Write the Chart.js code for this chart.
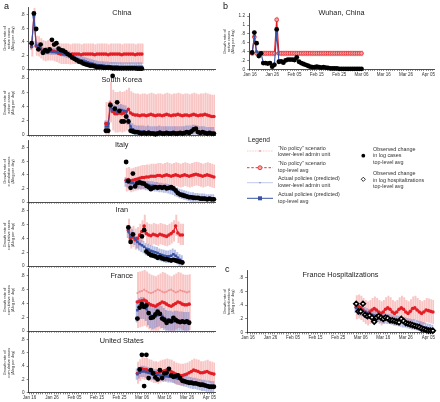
<!DOCTYPE html>
<html><head><meta charset="utf-8">
<script src="https://cdn.jsdelivr.net/npm/chart.js@4/dist/chart.umd.min.js"></script>
<style>
html,body{margin:0;padding:0;background:#fff;}
body{width:440px;height:402px;position:relative;overflow:hidden;font-family:"Liberation Sans",Arial,sans-serif;color:#222;}
canvas{position:absolute;}
.t{position:absolute;transform:translate(-50%,-50%);white-space:nowrap;font-size:7.3px;color:#222;line-height:1;}
.lab{position:absolute;font-size:9px;color:#111;line-height:1;}
.lg{position:absolute;font-size:5.4px;line-height:6.4px;color:#333;white-space:nowrap;}
svg{position:absolute;left:0;top:0;}
</style></head>
<body>
<script>
// ---------- axis ticks ----------
const tickDays = [0,10,20,30,40,50,60,70,80];
const tickLabels = ['Jan 16','Jan 26','Feb 05','Feb 15','Feb 25','Mar 06','Mar 16','Mar 26','Apr 05'];
const yTicksCases = [0,0.2,0.4,0.6,0.8];
const yTicksWuhan = [0,0.2,0.4,0.6,0.8,1,1.2];

// ---------- China (start day index: 0 = Jan 16) ----------
const chinaStart = 1;
const chinaObserved = [0.38,0.82,0.59,0.29,0.36,0.24,0.28,0.26,0.29,0.43,0.36,0.38,0.30,0.28,0.27,0.25,0.22,0.20,0.17,0.15,0.13,0.11,0.10,0.08,0.07,0.06,0.05,0.05,0.04,0.03,0.03,0.03,0.02,0.02,0.02,0.02,0.01,0.01,0.01,0.01,0.01,0.01,0.01,0.01,0.01,0.01,0.01,0.005,0.005,0.005];
const chinaNoPolicy = [0.33,0.80,0.34,0.33,0.30,0.27,0.26,0.27,0.27,0.27,0.26,0.25,0.23,0.22,0.22,0.22,0.22,0.21,0.22,0.22,0.22,0.22,0.21,0.22,0.22,0.22,0.22,0.22,0.21,0.22,0.22,0.22,0.22,0.22,0.21,0.22,0.22,0.22,0.22,0.22,0.21,0.22,0.22,0.22,0.22,0.22,0.21,0.22,0.22,0.22];
const chinaActual = [0.33,0.78,0.35,0.33,0.30,0.26,0.25,0.26,0.26,0.25,0.25,0.25,0.25,0.24,0.23,0.22,0.21,0.20,0.18,0.17,0.15,0.14,0.13,0.12,0.11,0.10,0.09,0.08,0.07,0.06,0.055,0.05,0.05,0.045,0.045,0.04,0.04,0.04,0.04,0.035,0.035,0.035,0.035,0.035,0.035,0.035,0.035,0.035,0.035,0.035];
const chinaNoPolicyBand = [0.14,0.15];
const chinaActualBand = [0.04,0.06];

// ---------- South Korea ----------
const koreaStart = 34;
const koreaObserved = [0.06,0.06,0.42,0.83,0.37,0.46,0.34,0.19,0.19,0.26,0.19,0.06,0.05,0.04,0.04,0.03,0.02,0.03,0.02,0.03,0.02,0.02,0.01,0.02,0.03,0.02,0.02,0.03,0.02,0.02,0.03,0.02,0.02,0.03,0.02,0.03,0.04,0.03,0.05,0.08,0.09,0.04,0.03,0.04,0.03,0.02,0.03,0.02,0.02];
const koreaNoPolicy = [0.16,0.16,0.44,0.33,0.30,0.30,0.31,0.30,0.31,0.33,0.36,0.31,0.29,0.28,0.28,0.27,0.28,0.28,0.27,0.28,0.29,0.28,0.27,0.28,0.28,0.27,0.28,0.29,0.28,0.27,0.28,0.28,0.29,0.28,0.27,0.28,0.28,0.27,0.28,0.29,0.28,0.27,0.28,0.28,0.29,0.28,0.27,0.26,0.26];
const koreaActual = [0.12,0.12,0.40,0.36,0.34,0.33,0.34,0.35,0.34,0.33,0.20,0.12,0.08,0.06,0.05,0.05,0.05,0.05,0.04,0.05,0.04,0.04,0.04,0.04,0.05,0.04,0.04,0.04,0.04,0.04,0.04,0.04,0.04,0.04,0.04,0.04,0.05,0.05,0.05,0.06,0.06,0.05,0.04,0.04,0.04,0.03,0.03,0.03,0.03];
const koreaNoPolicyBand = [0.26,0.30];
const koreaActualBand = [0.05,0.08];

// ---------- Italy ----------
const italyStart = 43;
const italyObserved = [0.59,0.31,0.21,0.42,0.23,0.28,0.29,0.28,0.27,0.24,0.22,0.19,0.21,0.22,0.21,0.22,0.21,0.22,0.20,0.21,0.22,0.20,0.17,0.13,0.11,0.10,0.09,0.08,0.07,0.07,0.06,0.06,0.06,0.05,0.05,0.05,0.04,0.05,0.04,0.04];
const italyNoPolicy = [0.32,0.33,0.31,0.32,0.33,0.34,0.35,0.36,0.36,0.37,0.37,0.38,0.38,0.38,0.39,0.39,0.38,0.39,0.40,0.39,0.38,0.39,0.40,0.39,0.38,0.39,0.40,0.39,0.38,0.39,0.40,0.41,0.40,0.39,0.38,0.39,0.40,0.39,0.38,0.37];
const italyActual = [0.30,0.29,0.28,0.28,0.27,0.27,0.27,0.26,0.26,0.25,0.25,0.24,0.24,0.23,0.23,0.22,0.22,0.21,0.21,0.20,0.19,0.18,0.16,0.15,0.13,0.12,0.11,0.10,0.09,0.08,0.08,0.07,0.07,0.06,0.06,0.06,0.05,0.05,0.05,0.05];
const italyNoPolicyBand = [0.16,0.18];
const italyActualBand = [0.07,0.06];

// ---------- Iran ----------
const iranStart = 44;
const iranObserved = [0.56,0.35,0.46,null,null,null,0.43,0.52,0.21,0.18,0.16,0.15,0.14,0.12,0.13,0.11,0.10,0.10,0.09,0.08,0.09,0.08,0.07,0.06,0.05];
const iranNoPolicy = [0.52,0.40,0.42,0.38,0.40,0.45,0.50,0.58,0.47,0.45,0.44,0.46,0.45,0.44,0.46,0.45,0.44,0.43,0.45,0.47,0.50,0.58,0.48,0.45,0.45];
const iranActual = [0.50,0.42,0.45,0.40,0.35,0.32,0.30,0.28,0.25,0.24,0.22,0.21,0.20,0.19,0.17,0.16,0.15,0.14,0.14,0.15,0.17,0.15,0.12,0.09,0.07];
const iranNoPolicyBand = [0.14,0.16];
const iranActualBand = [0.09,0.08];

// ---------- France (cases) ----------
const franceStart = 48;
const franceObserved = [0.18,0.34,0.39,0.35,0.37,0.26,0.19,0.20,0.24,0.28,0.25,0.18,0.16,0.12,0.15,0.14,0.19,0.16,0.14,0.13,0.14,0.13,0.14,0.12];
const franceNoPolicy = [0.42,0.43,0.44,0.45,0.43,0.40,0.38,0.37,0.36,0.38,0.40,0.42,0.41,0.39,0.37,0.36,0.38,0.40,0.42,0.41,0.39,0.38,0.38,0.39];
const franceNoPolicyLower = [0.55,0.57,0.58,0.60,0.58,0.56,0.55,0.56,0.58,0.60,0.59,0.57,0.56,0.57,0.59,0.60,0.58,0.56,0.57,0.59,0.58,0.57,0.56,0.57];
const franceActual = [0.30,0.33,0.35,0.35,0.32,0.26,0.22,0.20,0.21,0.23,0.24,0.22,0.19,0.16,0.15,0.15,0.14,0.15,0.15,0.14,0.14,0.13,0.13,0.13];
const franceNoPolicyBand = [0.37,0.43];
const franceActualBand = [0.17,0.14];

// ---------- United States ----------
const usStart = 48;
const usObserved = [null,0.35,0.57,0.10,0.57,0.22,0.34,0.29,0.23,0.20,0.34,0.22,0.29,0.30,0.36,0.26,0.24,0.25,0.26,0.22,0.18,0.17,0.16,0.15,0.15,0.14,0.14,0.13,0.12,0.12,0.11,0.10,0.09,0.09,0.09];
const usNoPolicy = [0.29,0.33,0.36,0.35,0.35,0.33,0.32,0.30,0.30,0.29,0.31,0.32,0.33,0.34,0.33,0.32,0.30,0.28,0.27,0.26,0.26,0.27,0.28,0.30,0.32,0.34,0.33,0.32,0.30,0.30,0.31,0.32,0.30,0.29,0.28];
const usActual = [0.28,0.30,0.32,0.32,0.31,0.30,0.29,0.28,0.27,0.27,0.26,0.26,0.25,0.25,0.24,0.24,0.23,0.22,0.21,0.20,0.19,0.18,0.17,0.16,0.15,0.14,0.14,0.13,0.12,0.11,0.11,0.10,0.10,0.09,0.09];
const usNoPolicyBand = [0.15,0.17];
const usActualBand = [0.08,0.08];

// ---------- Wuhan ----------
const wuhanStart = 1;
const wuhanObserved = [0.38,0.83,0.59,0.30,0.36,0.14,0.14,0.13,0.14,0.06,0.10,0.90,0.17,0.18,0.15,0.20,0.22,0.22,0.22,0.21,0.27,0.17,0.14,0.12,0.10,0.08,0.06,0.05,0.05,0.06,0.05,0.04,0.05,0.04,0.03,0.02,0.02,0.02,0.02,0.01,0.01,0.01,0.01,0.01,0.01,0.01,0.01,0.01,0.01,0.01];
const wuhanNoPolicy = [0.36,0.73,0.36,0.36,0.36,0.36,0.36,0.36,0.36,0.36,0.36,1.12,0.36,0.36,0.36,0.36,0.36,0.36,0.36,0.36,0.36,0.36,0.36,0.36,0.36,0.36,0.36,0.36,0.36,0.36,0.36,0.36,0.36,0.36,0.36,0.36,0.36,0.36,0.36,0.36,0.36,0.36,0.36,0.36,0.36,0.36,0.36,0.36,0.36,0.36];
const wuhanActual = [0.36,0.75,0.40,0.36,0.36,0.15,0.14,0.14,0.14,0.10,0.12,0.82,0.18,0.18,0.18,0.20,0.22,0.22,0.22,0.23,0.24,0.18,0.15,0.12,0.10,0.08,0.07,0.06,0.06,0.06,0.05,0.05,0.05,0.04,0.03,0.02,0.02,0.02,0.02,0.02,0.01,0.01,0.01,0.01,0.01,0.01,0.01,0.01,0.01,0.01];
const wuhanNoPolicyBand = [0.06,0.06];
const wuhanActualBand = [0.02,0.02];

// ---------- France hospitalizations ----------
const hospStart = 48;
const hospObserved = [0.42,0.31,0.31,0.42,0.26,0.24,0.25,0.22,0.16,0.22,0.24,0.22,0.20,0.22,0.21,0.18,0.18,0.17,0.16,0.15,0.20,0.17,0.14,0.13,0.12,0.11,0.10,0.09,0.08,0.06,0.05,0.04,0.03,0.03,0.03];
const hospNoPolicy = [0.37,0.38,0.36,0.33,0.30,0.28,0.30,0.33,0.35,0.33,0.30,0.28,0.30,0.34,0.36,0.34,0.30,0.28,0.30,0.34,0.36,0.34,0.30,0.28,0.31,0.35,0.36,0.33,0.30,0.28,0.30,0.33,0.32,0.31,0.30];
const hospActual = [0.36,0.33,0.32,0.31,0.30,0.28,0.27,0.26,0.25,0.24,0.23,0.22,0.21,0.21,0.20,0.20,0.19,0.18,0.18,0.17,0.16,0.15,0.15,0.14,0.13,0.12,0.12,0.11,0.10,0.09,0.08,0.07,0.06,0.05,0.04];
const hospNoPolicyBand = [0.17,0.17];
const hospActualBand = [0.07,0.07];

// ---------- styles ----------
const FONT = '"Liberation Sans", Arial, sans-serif';
Chart.defaults.font.family = FONT;
const RED = '#e41e26', BLUE = '#3953a4';
const RED_BAND = 'rgba(238,96,96,0.36)', BLUE_BAND = 'rgba(72,92,190,0.40)';

const activeTitle = ['Growth rate of','active cases','(\u0394log per day)'];
const cumTitle = ['Growth rate of','cumulative cases','(\u0394log per day)'];
const hospTitle = ['Growth rate of','hospitalizations','(\u0394log per day)'];

const panels = [
 {title:'China', yTitle:activeTitle, start:chinaStart, observed:chinaObserved, noPolicy:chinaNoPolicy, actual:chinaActual, npBand:chinaNoPolicyBand, acBand:chinaActualBand, yTicks:yTicksCases, ymax:0.9,
  box:{cl:0, pl:28.5, pr:215, y0:70, unit:69, labels:false, ty:13}},
 {title:'South Korea', yTitle:activeTitle, start:koreaStart, observed:koreaObserved, noPolicy:koreaNoPolicy, actual:koreaActual, npBand:koreaNoPolicyBand, acBand:koreaActualBand, yTicks:yTicksCases, ymax:0.9,
  box:{cl:0, pl:28.5, pr:215, y0:136, unit:73, labels:false, ty:80}},
 {title:'Italy', yTitle:cumTitle, start:italyStart, observed:italyObserved, noPolicy:italyNoPolicy, actual:italyActual, npBand:italyNoPolicyBand, acBand:italyActualBand, yTicks:yTicksCases, ymax:0.9,
  box:{cl:0, pl:28.5, pr:215, y0:202.5, unit:69, labels:false, ty:145}},
 {title:'Iran', yTitle:cumTitle, start:iranStart, observed:iranObserved, noPolicy:iranNoPolicy, actual:iranActual, npBand:iranNoPolicyBand, acBand:iranActualBand, yTicks:yTicksCases, ymax:0.9,
  box:{cl:0, pl:28.5, pr:215, y0:266.7, unit:70.5, labels:false, ty:210}},
 {title:'France', yTitle:cumTitle, start:franceStart, observed:franceObserved, noPolicy:franceNoPolicy, lower:franceNoPolicyLower, actual:franceActual, npBand:franceNoPolicyBand, acBand:franceActualBand, yTicks:yTicksCases, ymax:0.9,
  box:{cl:0, pl:28.5, pr:215, y0:331.5, unit:70, labels:false, ty:276}},
 {title:'United States', yTitle:cumTitle, start:usStart, observed:usObserved, noPolicy:usNoPolicy, actual:usActual, npBand:usNoPolicyBand, acBand:usActualBand, yTicks:yTicksCases, ymax:0.9,
  box:{cl:0, pl:28.5, pr:215, y0:392.7, unit:67, labels:true, ty:341}},
 {title:'Wuhan, China', yTitle:activeTitle, start:wuhanStart, observed:wuhanObserved, noPolicy:wuhanNoPolicy, actual:wuhanActual, npBand:wuhanNoPolicyBand, acBand:wuhanActualBand, yTicks:yTicksWuhan, ymax:1.25, openRed:true,
  box:{cl:220, pl:249, pr:434, y0:69.3, unit:44.4, labels:true, ty:13}},
 {title:'France Hospitalizations', yTitle:hospTitle, start:hospStart, observed:hospObserved, noPolicy:hospNoPolicy, actual:hospActual, npBand:hospNoPolicyBand, acBand:hospActualBand, yTicks:yTicksCases, ymax:0.9, diamonds:true,
  box:{cl:220, pl:247, pr:434, y0:332.7, unit:70, labels:true, ty:275}}
];

function fmtY(v){
  if (v === 0) return '0';
  if (Number.isInteger(v)) return String(v);
  return String(+v.toFixed(1)).replace(/^0/, '');
}

function makeChart(p){
  const b = p.box;
  const plotH = b.unit * p.ymax;
  const plotTop = b.y0 - plotH;
  const canvasTop = Math.floor(plotTop - 4);
  const padTop = plotTop - canvasTop;
  const canvasH = Math.ceil(padTop + plotH + (b.labels ? 10 : 4));
  const xH = canvasH - padTop - plotH;
  const canvasW = 220;
  const axisW = b.pl - b.cl;
  const padRight = b.cl + canvasW - b.pr;
  const cv = document.createElement('canvas');
  cv.width = canvasW; cv.height = canvasH;
  cv.style.left = b.cl + 'px'; cv.style.top = canvasTop + 'px';
  cv.style.width = canvasW + 'px'; cv.style.height = canvasH + 'px';
  document.body.appendChild(cv);

  const pts = arr => arr.map((v,i) => ({x:p.start + i, y:v}));
  const band = (arr, bw) => arr.map((v,i) => v == null ? null : {x:p.start + i, y:[Math.max(0, v - bw[0]), v + bw[1]]}).filter(Boolean);

  const datasets = [
    {type:'line', data:pts(p.observed), showLine:false, order:0,
     pointStyle: p.diamonds ? 'rectRot' : 'circle',
     pointRadius: p.diamonds ? 2.4 : 2.4,
     pointBackgroundColor: p.diamonds ? '#fff' : '#000',
     pointBorderColor:'#000', pointBorderWidth: p.diamonds ? 1.7 : 0, clip:4},
    {type:'line', data:pts(p.actual), borderColor:BLUE, borderWidth:1.1, order:1,
     pointStyle:'rect', pointRadius:1.8, pointBackgroundColor:BLUE, pointBorderWidth:0, clip:4},
    {type:'line', data:pts(p.noPolicy), borderColor:RED, borderWidth:1.2, order:2,
     pointStyle:'circle', pointRadius: p.openRed ? 1.9 : 1.8,
     pointBackgroundColor: p.openRed ? '#f4a9a9' : RED, pointBorderColor:RED,
     pointBorderWidth: p.openRed ? 0.8 : 0, clip:4},
    {type:'bar', data:band(p.actual, p.acBand), backgroundColor:BLUE_BAND, barThickness:1.3, order:4},
    {type:'bar', data:band(p.noPolicy, p.npBand), backgroundColor:RED_BAND, barThickness:1.3, order:5}
  ];
  if (p.lower) {
    datasets.push({type:'line', data:pts(p.lower), borderColor:'rgba(236,110,110,0.45)', borderWidth:0.6, order:3,
      pointStyle:'circle', pointRadius:1.1, pointBackgroundColor:'rgba(236,120,120,0.6)', pointBorderWidth:0});
  }

  new Chart(cv, {
    type:'line',
    data:{datasets},
    options:{
      responsive:false, animation:false, events:[],
      layout:{padding:{top:padTop, right:padRight, left:0, bottom:0}},
      plugins:{legend:{display:false}, tooltip:{enabled:false}, title:{display:false}},
      scales:{
        x:{type:'linear', min:-0.4, max:82.5, offset:false,
           afterBuildTicks: s => { const t = []; for (let d = 0; d <= 82; d++) t.push({value:d}); s.ticks = t; },
           afterFit: s => { s.height = xH; },
           grid:{display:true, drawOnChartArea:false, drawTicks:true, tickLength:1.6, tickWidth:0.6, tickColor:'#333', offset:false},
           border:{display:true, color:'#222', width:0.8},
           ticks:{autoSkip:false, maxRotation:0, minRotation:0, padding:1, color:'#333', font:{size:4.5, family:FONT},
             callback: v => { const i = tickDays.indexOf(v); return (b.labels && i >= 0) ? tickLabels[i] : ''; }}
        },
        y:{type:'linear', min:0, max:p.ymax,
           afterBuildTicks: s => { s.ticks = p.yTicks.map(v => ({value:v})); },
           afterFit: s => { s.width = axisW; },
           grid:{display:true, drawOnChartArea:false, drawTicks:true, tickLength:1.8, tickWidth:0.6, tickColor:'#333'},
           border:{display:true, color:'#222', width:0.8},
           ticks:{padding:2.2, color:'#333', font:{size:4.6, family:FONT}, callback: v => fmtY(v)},
           title:{display:true, text:p.yTitle, color:'#333', padding:{top:3.1, bottom:0}, font:{size:3.9, lineHeight:1.0, family:FONT}}
        }
      }
    }
  });

  const t = document.createElement('div');
  t.className = 't';
  t.textContent = p.title;
  t.style.left = ((b.pl + b.pr) / 2) + 'px';
  t.style.top = b.ty + 'px';
  document.body.appendChild(t);
}

panels.forEach(makeChart);

// ---------- panel letters ----------
[['a',4,2],['b',223,1.5],['c',225,264.5]].forEach(([s,x,y]) => {
  const d = document.createElement('div'); d.className = 'lab'; d.textContent = s;
  d.style.left = x + 'px'; d.style.top = y + 'px'; document.body.appendChild(d);
});

// ---------- legend (text) ----------
const legendBlocks = [
  {x:248, y:136.2, size:6.6, lines:['Legend']},
  {x:278, y:144.5, lines:['\u201cNo policy\u201d scenario','lower-level admin unit']},
  {x:278, y:160.1, lines:['\u201cNo policy\u201d scenario','top-level avg']},
  {x:278, y:175.1, lines:['Actual policies (predicted)','lower-level admin unit']},
  {x:278, y:191.1, lines:['Actual policies (predicted)','top-level avg']},
  {x:373, y:145.8, lines:['Observed change','in log cases','top-level avg']},
  {x:373, y:170.1, lines:['Observed change','in log hospitalizations','top-level avg']}
];
legendBlocks.forEach(bk => {
  const d = document.createElement('div'); d.className = 'lg';
  d.style.left = bk.x + 'px'; d.style.top = bk.y + 'px';
  if (bk.size) { d.style.fontSize = bk.size + 'px'; d.style.lineHeight = '8px'; d.style.color = '#222'; }
  d.innerHTML = bk.lines.join('<br>');
  document.body.appendChild(d);
});
</script>
<svg width="440" height="402" viewBox="0 0 440 402">
  <line x1="247" y1="151" x2="273" y2="151" stroke="rgba(232,110,110,0.85)" stroke-width="0.5" stroke-dasharray="0.8 0.8"/>
  <circle cx="260" cy="151" r="0.8" fill="rgba(232,90,90,0.9)"/>
  <line x1="247" y1="167.7" x2="273" y2="167.7" stroke="#e41e26" stroke-width="0.9" stroke-dasharray="2.5 1.8"/>
  <circle cx="260" cy="167.7" r="2" fill="#f4a9a9" stroke="#e41e26" stroke-width="0.8"/>
  <line x1="247" y1="182.7" x2="273" y2="182.7" stroke="rgba(110,125,200,0.85)" stroke-width="0.5"/>
  <circle cx="260" cy="182.7" r="0.7" fill="rgba(90,105,190,0.9)"/>
  <line x1="247" y1="198.3" x2="273" y2="198.3" stroke="#3953a4" stroke-width="1"/>
  <rect x="258" y="196.3" width="4" height="4" fill="#3953a4"/>
  <circle cx="363.3" cy="155.7" r="1.9" fill="#000"/>
  <polygon points="363.3,177.2 365.4,179.3 363.3,181.4 361.2,179.3" fill="#fff" stroke="#000" stroke-width="0.8"/>
</svg>
</body></html>
